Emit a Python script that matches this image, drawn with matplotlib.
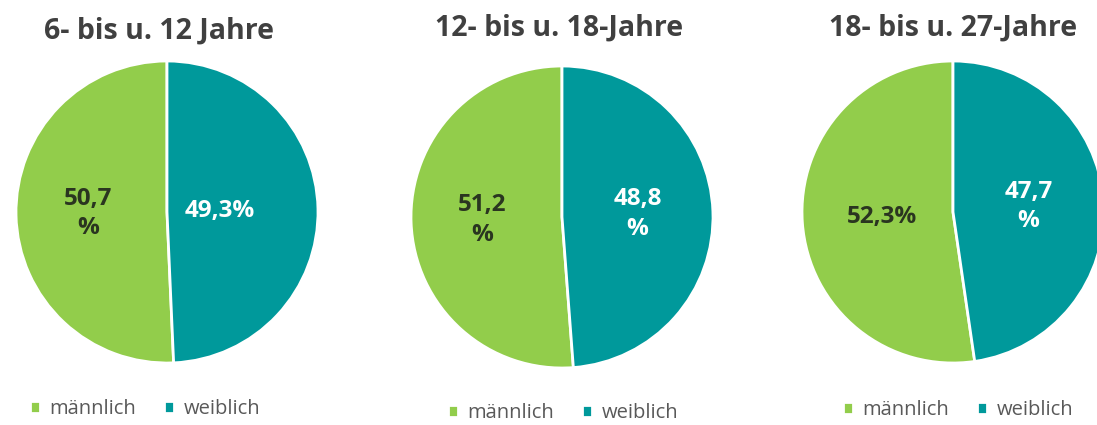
import numpy as np
import matplotlib
matplotlib.use("Agg")
import matplotlib.pyplot as plt

plt.rcParams['font.family'] = ['Open Sans', 'DejaVu Sans']

# data
titles = ["6- bis u. 12 Jahre", "12- bis u. 18-Jahre", "18- bis u. 27-Jahre"]
categories = ["männlich", "weiblich"]
maennlich = [50.7, 51.2, 52.3]
weiblich = [49.3, 48.8, 47.7]
# label text as wrapped in the original
label_texts = [["50,7\n%", "49,3%"],
               ["51,2\n%", "48,8\n%"],
               ["52,3%", "47,7\n%"]]

colors = ["#92CD4B", "#00999B"]
text_colors = ["#2A3520", "#FFFFFF"]

W, H = 1097, 425
fig = plt.figure(figsize=(W / 100, H / 100), dpi=100)

# layout in pixels: pie centre, radius, title pos, legend pos, label distances
centres = [(167, 212), (562, 217), (953, 212)]
radius = 151
title_pos = [(159, 31), (559, 28), (953, 28)]
legend_pos = [(145, 409), (563, 413), (958, 410)]
label_dist = [(0.52, 0.35), (0.53, 0.50), (0.47, 0.50)]


def px(x, y):
    return x / W, 1 - y / H


for i in range(3):
    cx, cy = centres[i]
    left, bottom = px(cx - radius, cy + radius)
    ax = fig.add_axes([left, bottom, 2 * radius / W, 2 * radius / H])
    vals = [maennlich[i], weiblich[i]]
    wedges, _ = ax.pie(vals, colors=colors, startangle=90, counterclock=True,
                       wedgeprops=dict(edgecolor="white", linewidth=2))
    ax.set_xlim(-1, 1)
    ax.set_ylim(-1, 1)
    ax.set_aspect("equal")
    ax.axis("off")

    for j, w in enumerate(wedges):
        ang = np.deg2rad((w.theta1 + w.theta2) / 2)
        d = label_dist[i][j]
        ax.text(d * np.cos(ang), d * np.sin(ang), label_texts[i][j],
                ha="center", va="center", fontsize=17.5, fontweight="bold",
                color=text_colors[j], linespacing=1.3)

    tx, ty = px(*title_pos[i])
    fig.text(tx, ty, titles[i], ha="center", va="center", fontsize=20.5,
             fontweight="bold", color="#404040")

    lx, ly = px(*legend_pos[i])
    fig.legend(wedges, categories, loc="center", bbox_to_anchor=(lx, ly),
               ncol=2, frameon=False, fontsize=14.5, handlelength=0.5,
               handleheight=0.5, handletextpad=0.45, columnspacing=1.4,
               labelcolor="#595959")

fig.savefig("out.png", dpi=100)
